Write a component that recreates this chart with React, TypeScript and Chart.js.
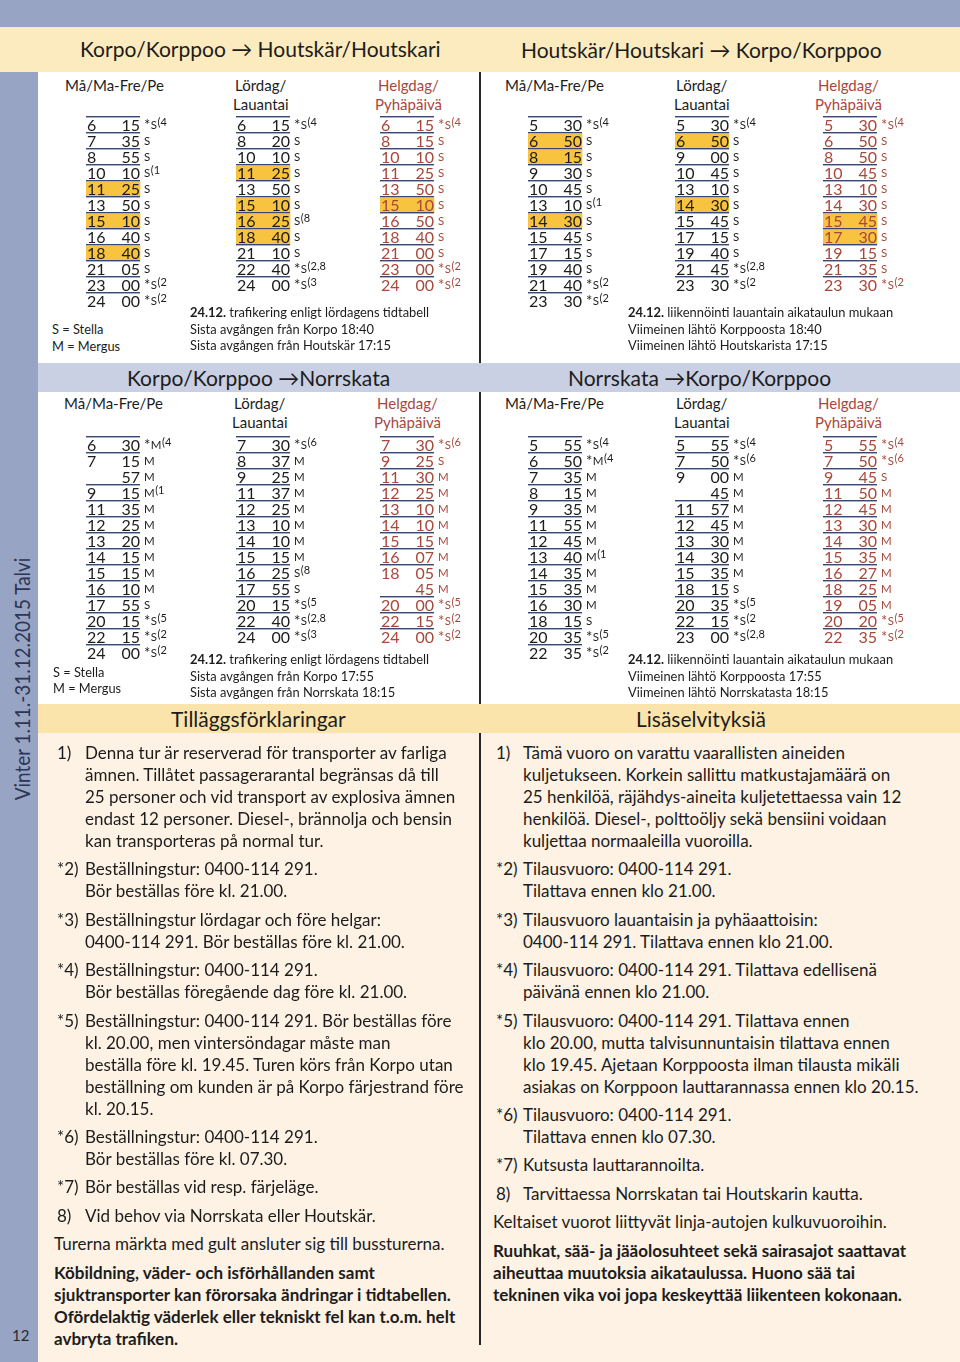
import React, { useEffect, useRef } from "react";
import { Chart, registerables } from "chart.js";
Chart.register(...registerables);

// ---------- DATA (hour minute note [! = connects to bus, yellow]) ----------
const KH_WEEKDAY = ["6 15 *S(4", "7 35 S", "8 55 S", "10 10 S(1", "11 25 S !", "13 50 S", "15 10 S !", "16 40 S", "18 40 S !", "21 05 S", "23 00 *S(2", "24 00 *S(2"];
const KH_SATURDAY = ["6 15 *S(4", "8 20 S", "10 10 S", "11 25 S !", "13 50 S", "15 10 S !", "16 25 S(8 !", "18 40 S !", "21 10 S", "22 40 *S(2,8", "24 00 *S(3"];
const KH_HOLIDAY = ["6 15 *S(4", "8 15 S", "10 10 S", "11 25 S", "13 50 S", "15 10 S !", "16 50 S", "18 40 S", "21 00 S", "23 00 *S(2", "24 00 *S(2"];
const HK_WEEKDAY = ["5 30 *S(4", "6 50 S !", "8 15 S !", "9 30 S", "10 45 S", "13 10 S(1", "14 30 S !", "15 45 S", "17 15 S", "19 40 S", "21 40 *S(2", "23 30 *S(2"];
const HK_SATURDAY = ["5 30 *S(4", "6 50 S !", "9 00 S", "10 45 S", "13 10 S", "14 30 S !", "15 45 S", "17 15 S", "19 40 S", "21 45 *S(2,8", "23 30 *S(2"];
const HK_HOLIDAY = ["5 30 *S(4", "6 50 S", "8 50 S", "10 45 S", "13 10 S", "14 30 S", "15 45 S !", "17 30 S !", "19 15 S", "21 35 S", "23 30 *S(2"];
const KN_WEEKDAY = ["6 30 *M(4", "7 15 M", "- 57 M", "9 15 M(1", "11 35 M", "12 25 M", "13 20 M", "14 15 M", "15 15 M", "16 10 M", "17 55 S", "20 15 *S(5", "22 15 *S(2", "24 00 *S(2"];
const KN_SATURDAY = ["7 30 *S(6", "8 37 M", "9 25 M", "11 37 M", "12 25 M", "13 10 M", "14 10 M", "15 15 M", "16 25 S(8", "17 55 S", "20 15 *S(5", "22 40 *S(2,8", "24 00 *S(3"];
const KN_HOLIDAY = ["7 30 *S(6", "9 25 S", "11 30 M", "12 25 M", "13 10 M", "14 10 M", "15 15 M", "16 07 M", "18 05 M", "- 45 M", "20 00 *S(5", "22 15 *S(2", "24 00 *S(2"];
const NK_WEEKDAY = ["5 55 *S(4", "6 50 *M(4", "7 35 M", "8 15 M", "9 35 M", "11 55 M", "12 45 M", "13 40 M(1", "14 35 M", "15 35 M", "16 30 M", "18 15 S", "20 35 *S(5", "22 35 *S(2"];
const NK_SATURDAY = ["5 55 *S(4", "7 50 *S(6", "9 00 M", "- 45 M", "11 57 M", "12 45 M", "13 30 M", "14 30 M", "15 35 M", "18 15 S", "20 35 *S(5", "22 15 *S(2", "23 00 *S(2,8"];
const NK_HOLIDAY = ["5 55 *S(4", "7 50 *S(6", "9 45 S", "11 50 M", "12 45 M", "13 30 M", "14 30 M", "15 35 M", "16 27 M", "18 25 M", "19 05 M", "20 20 *S(5", "22 35 *S(2"];

const NOTES_SV = [
  ["1)", ["Denna tur är reserverad för transporter av farliga", "ämnen. Tillåtet passagerarantal begränsas då till", "25 personer och vid transport av explosiva ämnen", "endast 12 personer. Diesel-, brännolja och bensin", "kan transporteras på normal tur."]],
  ["*2)", ["Beställningstur: 0400-114 291.", "Bör beställas före kl. 21.00."]],
  ["*3)", ["Beställningstur lördagar och före helgar:", "0400-114 291. Bör beställas före kl. 21.00."]],
  ["*4)", ["Beställningstur: 0400-114 291.", "Bör beställas föregående dag före kl. 21.00."]],
  ["*5)", ["Beställningstur: 0400-114 291. Bör beställas före", "kl. 20.00, men vintersöndagar måste man", "beställa före kl. 19.45. Turen körs från Korpo utan", "beställning om kunden är på Korpo färjestrand före", "kl. 20.15."]],
  ["*6)", ["Beställningstur: 0400-114 291.", "Bör beställas före kl. 07.30."]],
  ["*7)", ["Bör beställas vid resp. färjeläge."]],
  ["8)", ["Vid behov via Norrskata eller Houtskär."]],
];
const YELLOW_SV = "Turerna märkta med gult ansluter sig till bussturerna.";
const BOLD_SV = ["Köbildning, väder- och isförhållanden samt", "sjuktransporter kan förorsaka ändringar i tidtabellen.", "Ofördelaktig väderlek eller tekniskt fel kan t.o.m. helt", "avbryta trafiken."];

const NOTES_FI = [
  ["1)", ["Tämä vuoro on varattu vaarallisten aineiden", "kuljetukseen. Korkein sallittu matkustajamäärä on", "25 henkilöä, räjähdys-aineita kuljetettaessa vain 12", "henkilöä. Diesel-, polttoöljy sekä bensiini voidaan", "kuljettaa normaaleilla vuoroilla."]],
  ["*2)", ["Tilausvuoro: 0400-114 291.", "Tilattava ennen klo 21.00."]],
  ["*3)", ["Tilausvuoro lauantaisin ja pyhäaattoisin:", "0400-114 291. Tilattava ennen klo 21.00."]],
  ["*4)", ["Tilausvuoro: 0400-114 291. Tilattava edellisenä", "päivänä ennen klo 21.00."]],
  ["*5)", ["Tilausvuoro: 0400-114 291. Tilattava ennen", "klo 20.00, mutta talvisunnuntaisin tilattava ennen", "klo 19.45. Ajetaan Korppoosta ilman tilausta mikäli", "asiakas on Korppoon lauttarannassa ennen klo 20.15."]],
  ["*6)", ["Tilausvuoro: 0400-114 291.", "Tilattava ennen klo 07.30."]],
  ["*7)", ["Kutsusta lauttarannoilta."]],
  ["8)", ["Tarvittaessa Norrskatan tai Houtskarin kautta."]],
];
const YELLOW_FI = "Keltaiset vuorot liittyvät linja-autojen kulkuvuoroihin.";
const BOLD_FI = ["Ruuhkat, sää- ja jääolosuhteet sekä sairasajot saattavat", "aiheuttaa muutoksia aikataulussa. Huono sää tai", "tekninen vika voi jopa keskeyttää liikenteen kokonaan."];

// ---------- STYLE ----------
const FONT = "Lato, 'Open Sans', sans-serif";
const BLUE = "#98a4c3";
const BAND_Y = "#fcebbe";
const BAND_Y2 = "#fbe4ab";
const MID = "#c9d0e3";
const CREAM = "#fdf2e4";
const HL = "#f8c33e";
const RED = "#a8473c";
const INK = "#1c1c1c";
const ROW_H = 16;
const PAD = 5;
const COL_W = 54;
const NOTE_FS = 17;

function parseRow(s: string) {
  const p = s.split(" ");
  return { hour: p[0] === "-" ? "" : p[0], minute: p[1], note: p[2] || "", hl: p[3] === "!" };
}

function Timetable({ data, left, top, color }: any) {
  const ref = useRef<HTMLCanvasElement | null>(null);
  const h = data.length * ROW_H + PAD * 2;
  useEffect(() => {
    const rows = data.map(parseRow);
    const textPlugin = {
      id: "timetableText",
      afterDatasetsDraw(chart: any) {
        const { ctx, scales } = chart;
        const xs = scales.x, ys = scales.y;
        const x0 = xs.getPixelForValue(0), x1 = xs.getPixelForValue(1);
        ctx.save();
        rows.forEach((r: any, i: number) => {
          const cy = ys.getPixelForValue(i);
          const top = Math.round(cy - ROW_H / 2);
          if (i === 0 || r.hour) {
            ctx.fillStyle = "#3c4874";
            ctx.fillRect(x0, top - 1, x1 - x0, 1);
            ctx.fillStyle = "#a9b0c8";
            ctx.fillRect(x0, top, x1 - x0, 1);
          }
          ctx.fillStyle = color;
          ctx.textBaseline = "alphabetic";
          ctx.font = `16px ${FONT}`;
          ctx.textAlign = "left";
          ctx.fillText(r.hour, x0 + 1, cy + 6);
          ctx.textAlign = "right";
          ctx.fillText(r.minute, x1, cy + 6);
          ctx.textAlign = "left";
          let nx = x1 + 4;
          let n = r.note;
          if (n.startsWith("*")) {
            ctx.font = `15px ${FONT}`;
            ctx.fillText("*", nx, cy + 5);
            nx += ctx.measureText("*").width + 0.5;
            n = n.slice(1);
          }
          const letter = n.charAt(0);
          const sup = n.slice(1);
          ctx.font = `11.5px ${FONT}`;
          ctx.fillText(letter, nx, cy + 3.5);
          nx += ctx.measureText(letter).width + 0.5;
          if (sup) {
            ctx.font = `11px ${FONT}`;
            ctx.fillText(sup, nx, cy + 0.5);
          }
        });
        ctx.restore();
      },
    };
    const chart = new Chart(ref.current as HTMLCanvasElement, {
      type: "bar",
      data: {
        labels: rows.map((_: any, i: number) => String(i)),
        datasets: [
          {
            data: rows.map((r: any) => (r.hl ? [0, 1] : null)),
            backgroundColor: HL,
            borderWidth: 0,
            barPercentage: 1,
            categoryPercentage: 1,
          } as any,
        ],
      },
      options: {
        indexAxis: "y",
        responsive: false,
        maintainAspectRatio: false,
        animation: false,
        devicePixelRatio: 1,
        events: [],
        layout: { padding: { top: PAD, bottom: PAD, left: 0, right: 0 } },
        plugins: { legend: { display: false }, tooltip: { enabled: false }, title: { display: false } },
        scales: {
          x: { type: "linear", min: 0, max: 2, display: false },
          y: { type: "category", display: false, offset: true },
        },
      } as any,
      plugins: [textPlugin],
    });
    return () => chart.destroy();
  }, [data, color]);
  return (
    <canvas
      ref={ref}
      width={COL_W * 2}
      height={h}
      style={{ position: "absolute", left, top: top - PAD, width: COL_W * 2, height: h }}
    />
  );
}

const T = ({ x, y, s = 15, c = INK, b = false, children, st = {} }: any) => (
  <div
    style={{
      position: "absolute",
      left: x,
      top: y,
      fontSize: s,
      color: c,
      fontWeight: b ? 700 : 400,
      lineHeight: 1,
      whiteSpace: "nowrap",
      transform: "translateY(-50%)",
      ...st,
    }}
  >
    {children}
  </div>
);

function Headings({ xs, y }: any) {
  return (
    <>
      <T x={xs[0]} y={y}>Må/Ma-Fre/Pe</T>
      <T x={xs[1]} y={y}>Lördag/</T>
      <T x={xs[1] - 2} y={y + 19}>Lauantai</T>
      <T x={xs[2]} y={y} c={RED}>Helgdag/</T>
      <T x={xs[2] - 3} y={y + 19} c={RED}>Pyhäpäivä</T>
    </>
  );
}

function Footnotes({ notes, yellow, bold, lx, tx, px, y0 }: any) {
  const LH = 22;
  const GAP = 6.4;
  const out: any[] = [];
  let y = y0;
  notes.forEach(([label, lines]: any, k: number) => {
    out.push(<T key={"l" + k} x={lx} y={y} s={NOTE_FS}>{label}</T>);
    lines.forEach((ln: string, j: number) => {
      out.push(<T key={"t" + k + "_" + j} x={tx} y={y + j * LH} s={NOTE_FS}>{ln}</T>);
    });
    y += lines.length * LH + GAP;
  });
  out.push(<T key="yel" x={px} y={y} s={NOTE_FS}>{yellow}</T>);
  y += LH + GAP;
  bold.forEach((ln: string, j: number) => {
    out.push(<T key={"b" + j} x={px} y={y + j * LH} s={NOTE_FS} b>{ln}</T>);
  });
  return <>{out}</>;
}

export default function App() {
  useEffect(() => {
    document.body.style.margin = "0";
  }, []);
  const L = [86, 236, 380];
  const R = [528, 675, 823];
  return (
    <div style={{ position: "relative", width: 960, height: 1362, overflow: "hidden", background: "#fff", fontFamily: FONT, color: INK }}>
      {/* backgrounds */}
      <div style={{ position: "absolute", left: 38, top: 733, width: 922, height: 629, background: CREAM }} />
      <div style={{ position: "absolute", left: 479, top: 72, width: 2, height: 1273, background: "#262626" }} />
      <div style={{ position: "absolute", left: 0, top: 0, width: 960, height: 27, background: BLUE }} />
      <div style={{ position: "absolute", left: 0, top: 27, width: 960, height: 45, background: BAND_Y }} />
      <div style={{ position: "absolute", left: 0, top: 72, width: 38, height: 1290, background: BLUE }} />
      <div style={{ position: "absolute", left: 38, top: 363, width: 922, height: 29, background: MID }} />
      <div style={{ position: "absolute", left: 38, top: 704, width: 922, height: 29, background: BAND_Y2 }} />

      {/* sidebar */}
      <div
        style={{
          position: "absolute",
          left: 21,
          top: 679,
          transform: "translate(-50%, -50%) rotate(-90deg) scaleX(0.9)",
          fontSize: 21,
          color: "#2c3555",
          whiteSpace: "nowrap",
          lineHeight: 1,
        }}
      >
        Vinter 1.11.-31.12.2015 Talvi
      </div>
      <T x={12} y={1335} s={15} c="#2a2a2a">12</T>

      {/* titles */}
      <T x={80} y={48} s={21}>Korpo/Korppoo → Houtskär/Houtskari</T>
      <T x={521} y={49} s={21}>Houtskär/Houtskari → Korpo/Korppoo</T>
      <T x={127} y={377} s={21}>Korpo/Korppoo →Norrskata</T>
      <T x={568} y={377} s={21}>Norrskata →Korpo/Korppoo</T>
      <T x={171} y={718} s={21}>Tilläggsförklaringar</T>
      <T x={636} y={718} s={21}>Lisäselvityksiä</T>

      {/* top section */}
      <Headings xs={[65, 235, 378]} y={85} />
      <Headings xs={[505, 676, 818]} y={85} />
      <Timetable data={KH_WEEKDAY} left={L[0]} top={117} color={INK} />
      <Timetable data={KH_SATURDAY} left={L[1]} top={117} color={INK} />
      <Timetable data={KH_HOLIDAY} left={L[2]} top={117} color={RED} />
      <Timetable data={HK_WEEKDAY} left={R[0]} top={117} color={INK} />
      <Timetable data={HK_SATURDAY} left={R[1]} top={117} color={INK} />
      <Timetable data={HK_HOLIDAY} left={R[2]} top={117} color={RED} />
      <T x={52} y={329} s={12.8}>S = Stella</T>
      <T x={52} y={346} s={12.8}>M = Mergus</T>
      <T x={190} y={312} s={12.9}><b>24.12.</b> trafikering enligt lördagens tidtabell</T>
      <T x={190} y={329} s={12.9}>Sista avgången från Korpo 18:40</T>
      <T x={190} y={345} s={12.9}>Sista avgången från Houtskär 17:15</T>
      <T x={628} y={312} s={12.9}><b>24.12.</b> liikennöinti lauantain aikataulun mukaan</T>
      <T x={628} y={329} s={12.9}>Viimeinen lähtö Korppoosta 18:40</T>
      <T x={628} y={345} s={12.9}>Viimeinen lähtö Houtskarista 17:15</T>

      {/* middle section */}
      <Headings xs={[64, 234, 377]} y={403} />
      <Headings xs={[505, 676, 818]} y={403} />
      <Timetable data={KN_WEEKDAY} left={L[0]} top={437} color={INK} />
      <Timetable data={KN_SATURDAY} left={L[1]} top={437} color={INK} />
      <Timetable data={KN_HOLIDAY} left={L[2]} top={437} color={RED} />
      <Timetable data={NK_WEEKDAY} left={R[0]} top={437} color={INK} />
      <Timetable data={NK_SATURDAY} left={R[1]} top={437} color={INK} />
      <Timetable data={NK_HOLIDAY} left={R[2]} top={437} color={RED} />
      <T x={53} y={672} s={12.8}>S = Stella</T>
      <T x={53} y={688} s={12.8}>M = Mergus</T>
      <T x={190} y={659} s={12.9}><b>24.12.</b> trafikering enligt lördagens tidtabell</T>
      <T x={190} y={676} s={12.9}>Sista avgången från Korpo 17:55</T>
      <T x={190} y={692} s={12.9}>Sista avgången från Norrskata 18:15</T>
      <T x={628} y={659} s={12.9}><b>24.12.</b> liikennöinti lauantain aikataulun mukaan</T>
      <T x={628} y={676} s={12.9}>Viimeinen lähtö Korppoosta 17:55</T>
      <T x={628} y={692} s={12.9}>Viimeinen lähtö Norrskatasta 18:15</T>

      {/* footnotes */}
      <Footnotes notes={NOTES_SV} yellow={YELLOW_SV} bold={BOLD_SV} lx={57} tx={85} px={54} y0={752} />
      <Footnotes notes={NOTES_FI} yellow={YELLOW_FI} bold={BOLD_FI} lx={496} tx={523} px={493} y0={752} />
    </div>
  );
}
